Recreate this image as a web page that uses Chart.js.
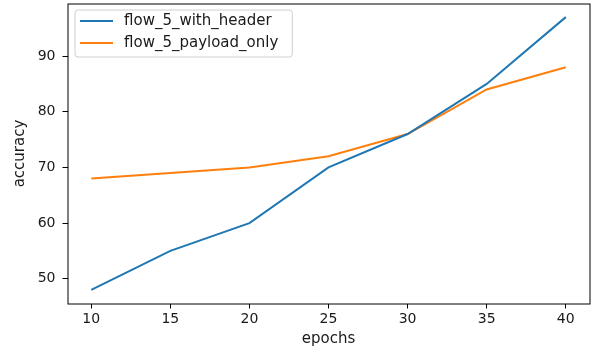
<!DOCTYPE html>
<html><head><meta charset="utf-8">
<script src="https://cdn.jsdelivr.net/npm/chart.js@4/dist/chart.umd.min.js"></script>
<style>html,body{margin:0;padding:0;background:#fff}#wrap{width:592px;height:354px}</style>
</head><body><div id="wrap"><canvas id="c" width="592" height="354"></canvas></div>
<script>
const epochs = [10, 15, 20, 25, 30, 35, 40];
const withHeader = [48, 55, 60, 70, 76, 85, 97];
const payloadOnly = [68, 69, 70, 72, 76, 84, 88];
const xTicks = [10, 15, 20, 25, 30, 35, 40];
const yTicks = [50, 60, 70, 80, 90];
const seriesNames = ['flow_5_with_header', 'flow_5_payload_only'];
const seriesColors = ['#1f77b4', '#ff7f0e'];
const xTitle = 'epochs';
const yTitle = 'accuracy';

const FONT = 'DejaVu Sans';
const TXT = '#1a1a1a';

function pts(ys) { return epochs.map((x, i) => ({ x: x, y: ys[i] })); }

const frameAndLegend = {
  id: 'frameAndLegend',
  afterDatasetsDraw(chart) {
    const ctx = chart.ctx, ca = chart.chartArea;
    ctx.save();
    ctx.strokeStyle = '#000';
    ctx.lineWidth = 1;
    ctx.strokeRect(Math.round(ca.left), Math.round(ca.top), Math.round(ca.right - ca.left), Math.round(ca.bottom - ca.top));
    ctx.restore();
  },
  afterDraw(chart) {
    const ctx = chart.ctx, ca = chart.chartArea;
    const ds = chart.data.datasets;
    ctx.save();
    ctx.font = '15px "' + FONT + '"';
    let maxW = 0;
    ds.forEach(d => { maxW = Math.max(maxW, ctx.measureText(d.label).width); });
    const x0 = ca.left + 7.5, y0 = ca.top + 6.5;
    const w = 49 + maxW + 14, h = 47;
    ctx.beginPath();
    ctx.roundRect(x0, y0, w, h, 3);
    ctx.fillStyle = 'rgba(255,255,255,0.8)';
    ctx.fill();
    ctx.strokeStyle = '#cfcfcf';
    ctx.lineWidth = 1;
    ctx.stroke();
    ds.forEach((d, i) => {
      const cy = y0 + 11 + i * 22;
      ctx.beginPath();
      ctx.strokeStyle = d.borderColor;
      ctx.lineWidth = 2;
      ctx.moveTo(x0 + 5, cy);
      ctx.lineTo(x0 + 38, cy);
      ctx.stroke();
      ctx.fillStyle = TXT;
      ctx.textBaseline = 'middle';
      ctx.textAlign = 'left';
      ctx.fillText(d.label, x0 + 49, cy);
    });
    ctx.restore();
  }
};

function zeroPad(s) { s.paddingTop = 0; s.paddingBottom = 0; s.paddingLeft = 0; s.paddingRight = 0; }

new Chart(document.getElementById('c'), {
  type: 'line',
  data: {
    datasets: [
      { label: seriesNames[0], data: pts(withHeader), borderColor: seriesColors[0], backgroundColor: seriesColors[0], borderWidth: 2, pointRadius: 0, tension: 0, fill: false },
      { label: seriesNames[1], data: pts(payloadOnly), borderColor: seriesColors[1], backgroundColor: seriesColors[1], borderWidth: 2, pointRadius: 0, tension: 0, fill: false }
    ]
  },
  options: {
    responsive: false,
    animation: false,
    devicePixelRatio: 1,
    layout: { padding: { left: 0, right: 2.5, top: 3.5, bottom: 0 } },
    plugins: { legend: { display: false }, tooltip: { enabled: false } },
    scales: {
      x: {
        type: 'linear', min: 8.5, max: 41.5,
        afterBuildTicks: s => { s.ticks = xTicks.map(v => ({ value: v })); },
        afterFit: s => { s.height = 50.5; zeroPad(s); },
        grid: { drawOnChartArea: false, drawTicks: true, tickLength: 5, tickColor: '#000', color: '#000' },
        border: { display: false },
        ticks: { font: { family: FONT, size: 14 }, color: TXT, padding: 2, maxRotation: 0, autoSkip: false },
        title: { display: true, text: xTitle, font: { family: FONT, size: 15 }, color: TXT, padding: { top: 0, bottom: 6 } }
      },
      y: {
        type: 'linear', min: 45.55, max: 99.45,
        afterBuildTicks: s => { s.ticks = yTicks.map(v => ({ value: v })); },
        afterFit: s => { s.width = 67.5; zeroPad(s); },
        grid: { drawOnChartArea: false, drawTicks: true, tickLength: 5, tickColor: '#000', color: '#000' },
        border: { display: false },
        ticks: { font: { family: FONT, size: 14 }, color: TXT, padding: 7, autoSkip: false },
        title: { display: true, text: yTitle, font: { family: FONT, size: 15 }, color: TXT, padding: { top: 11.5, bottom: 0 } }
      }
    }
  },
  plugins: [frameAndLegend]
});
</script>
</body></html>
